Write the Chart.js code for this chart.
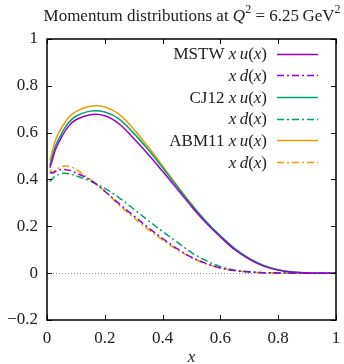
<!DOCTYPE html>
<html><head><meta charset="utf-8">
<script src="https://cdn.jsdelivr.net/npm/chart.js@4/dist/chart.umd.min.js"></script>
<style>html,body{margin:0;padding:0;background:#fff}canvas{display:block}</style>
</head><body>
<canvas id="c" width="344" height="364"></canvas>
<script>
// ---- data ----
const xs      = [0.01,0.02,0.03,0.05,0.075,0.1,0.15,0.2,0.25,0.3,0.35,0.4,0.45,0.5,0.55,0.6,0.65,0.7,0.75,0.8,0.85,0.9,0.95,1.0];
const mstwU   = [0.45,0.49,0.53,0.58,0.628,0.655,0.677,0.672,0.637,0.575,0.508,0.435,0.36,0.285,0.215,0.155,0.10,0.06,0.03,0.013,0.004,0.001,0,0];
const mstwD   = [0.43,0.428,0.435,0.443,0.44,0.428,0.398,0.35,0.296,0.245,0.195,0.148,0.105,0.068,0.042,0.022,0.011,0.005,0.002,0.001,0,0,0,0];
const cjU     = [0.46,0.505,0.545,0.595,0.643,0.67,0.692,0.688,0.658,0.598,0.528,0.45,0.37,0.292,0.222,0.16,0.105,0.063,0.033,0.015,0.005,0.001,0,0];
const cjD     = [0.39,0.405,0.415,0.425,0.425,0.416,0.393,0.362,0.322,0.274,0.225,0.178,0.133,0.088,0.054,0.028,0.013,0.006,0.002,0.001,0,0,0,0];
const abmU    = [0.48,0.53,0.57,0.62,0.665,0.69,0.713,0.71,0.678,0.615,0.54,0.458,0.375,0.295,0.22,0.157,0.103,0.06,0.031,0.013,0.004,0.001,0,0];
const abmD    = [0.44,0.43,0.44,0.455,0.456,0.443,0.40,0.35,0.29,0.237,0.187,0.142,0.10,0.066,0.04,0.022,0.011,0.005,0.002,0.001,0,0,0,0];
const xTicks  = [0,0.2,0.4,0.6,0.8,1];
const xTickLabels = ['0','0.2','0.4','0.6','0.8','1'];
const yTicks  = [-0.2,0,0.2,0.4,0.6,0.8,1];
const yTickLabels = ['\u22120.2','0','0.2','0.4','0.6','0.8','1'];
const groups  = ['MSTW','','CJ12','','ABM11',''];
const partons = ['u','d','u','d','u','d'];
const seriesData = [mstwU, mstwD, cjU, cjD, abmU, abmD];
const colors  = ['#9400d3','#9400d3','#009e73','#009e73','#e69f00','#e69f00'];
const dashed  = [false,true,false,true,false,true];

const SERIF = '"Liberation Serif","DejaVu Serif",serif';
const FS = 17;
const DASH = [7,3,2,3];

const datasets = seriesData.map((arr,i)=>({
  label: (groups[i]?groups[i]+' ':'') + 'x ' + partons[i] + '(x)',
  data: xs.map((x,j)=>({x:x,y:arr[j]})),
  borderColor: colors[i],
  borderWidth: 1.5,
  borderDash: dashed[i]?DASH:[],
  showLine: true,
  pointRadius: 0,
  fill: false,
  tension: 0.35
}));

function drawRich(ctx, segs, xRef, yMid, size, align){
  let w = 0;
  segs.forEach(s=>{ ctx.font = (s.it?'italic ':'') + (s.sup?Math.round(size*0.7):size) + 'px ' + SERIF; s.w = ctx.measureText(s.t).width; w += s.w; });
  let x = align==='center' ? xRef - w/2 : xRef - w;
  ctx.textBaseline = 'alphabetic';
  ctx.textAlign = 'left';
  segs.forEach(s=>{
    ctx.font = (s.it?'italic ':'') + (s.sup?Math.round(size*0.7):size) + 'px ' + SERIF;
    ctx.fillText(s.t, x, yMid + size*0.33 - (s.sup?size*0.42:0));
    x += s.w;
  });
}

const deco = {
  id:'deco',
  beforeDatasetsDraw(chart){
    const ctx = chart.ctx, a = chart.chartArea, ys = chart.scales.y;
    const y0 = ys.getPixelForValue(0);
    ctx.save();
    ctx.strokeStyle = '#888'; ctx.lineWidth = 1; ctx.setLineDash([1,2]);
    ctx.beginPath(); ctx.moveTo(a.left, Math.round(y0)+0.5); ctx.lineTo(a.right, Math.round(y0)+0.5); ctx.stroke();
    ctx.restore();
  },
  afterDraw(chart){
    const ctx = chart.ctx, a = chart.chartArea, xsc = chart.scales.x, ysc = chart.scales.y;
    ctx.save();
    ctx.strokeStyle = '#000'; ctx.lineWidth = 1.5; ctx.setLineDash([]);
    ctx.strokeRect(a.left, a.top, a.right-a.left, a.bottom-a.top);
    ctx.lineWidth = 1;
    const tl = 5;
    ctx.beginPath();
    xTicks.forEach(v=>{ const px = Math.round(xsc.getPixelForValue(v))+0.5;
      ctx.moveTo(px,a.bottom); ctx.lineTo(px,a.bottom-tl); ctx.moveTo(px,a.top); ctx.lineTo(px,a.top+tl); });
    yTicks.forEach(v=>{ const py = Math.round(ysc.getPixelForValue(v))+0.5;
      ctx.moveTo(a.left,py); ctx.lineTo(a.left+tl,py); ctx.moveTo(a.right,py); ctx.lineTo(a.right-tl,py); });
    ctx.stroke();
    // legend
    const rowY0 = 53.5, rowH = 21.7, textRight = 267, lx0 = 277, lx1 = 318;
    datasets.forEach((d,i)=>{
      const y = rowY0 + i*rowH;
      const segs = [];
      if (groups[i]) segs.push({t:groups[i]+' ', it:false});
      segs.push({t:'x', it:true},{t:'\u2009', it:false},{t:partons[i], it:true},{t:'(', it:false},{t:'x', it:true},{t:')', it:false});
      ctx.fillStyle = '#222';
      drawRich(ctx, segs, textRight, y, FS, 'right');
      ctx.strokeStyle = colors[i]; ctx.lineWidth = 1.5; ctx.setLineDash(dashed[i]?DASH:[]);
      ctx.beginPath(); ctx.moveTo(lx0, Math.round(y)+0.5); ctx.lineTo(lx1, Math.round(y)+0.5); ctx.stroke();
    });
    ctx.setLineDash([]);
    // title
    ctx.fillStyle = '#222';
    drawRich(ctx, [
      {t:'Momentum distributions at ', it:false},
      {t:'Q', it:true},{t:'2', sup:true},
      {t:' = 6.25\u2009GeV', it:false},{t:'2', sup:true}
    ], 192, 15, 17, 'center');
    ctx.restore();
  }
};

new Chart(document.getElementById('c'), {
  type: 'scatter',
  data: { datasets },
  options: {
    responsive: false,
    animation: false,
    devicePixelRatio: 1,
    layout: { padding: { top: 39, right: 8, left: 0, bottom: 0 } },
    plugins: { legend: { display: false }, tooltip: { enabled: false }, title: { display: false } },
    scales: {
      x: {
        type: 'linear', min: 0, max: 1,
        afterBuildTicks: s => { s.ticks = xTicks.map(v=>({value:v})); },
        afterFit: s => { s.height = 44; s.paddingLeft = 0; s.paddingRight = 0; },
        grid: { display: false, drawTicks: false },
        border: { display: false },
        ticks: { padding: 8, color: '#222', font: { family: SERIF, size: FS },
                 callback: (v,i) => xTickLabels[i] },
        title: { display: true, text: 'x', color: '#222', padding: { top: 0, bottom: 0 },
                 font: { family: SERIF, size: FS, style: 'italic', lineHeight: 0.8 } }
      },
      y: {
        type: 'linear', min: -0.2, max: 1,
        afterBuildTicks: s => { s.ticks = yTicks.map(v=>({value:v})); },
        afterFit: s => { s.width = 47; s.paddingTop = 0; s.paddingBottom = 0; },
        grid: { display: false, drawTicks: false },
        border: { display: false },
        ticks: { padding: 9, color: '#222', font: { family: SERIF, size: FS },
                 callback: (v,i) => yTickLabels[i] }
      }
    }
  },
  plugins: [deco]
});
</script>
</body></html>
